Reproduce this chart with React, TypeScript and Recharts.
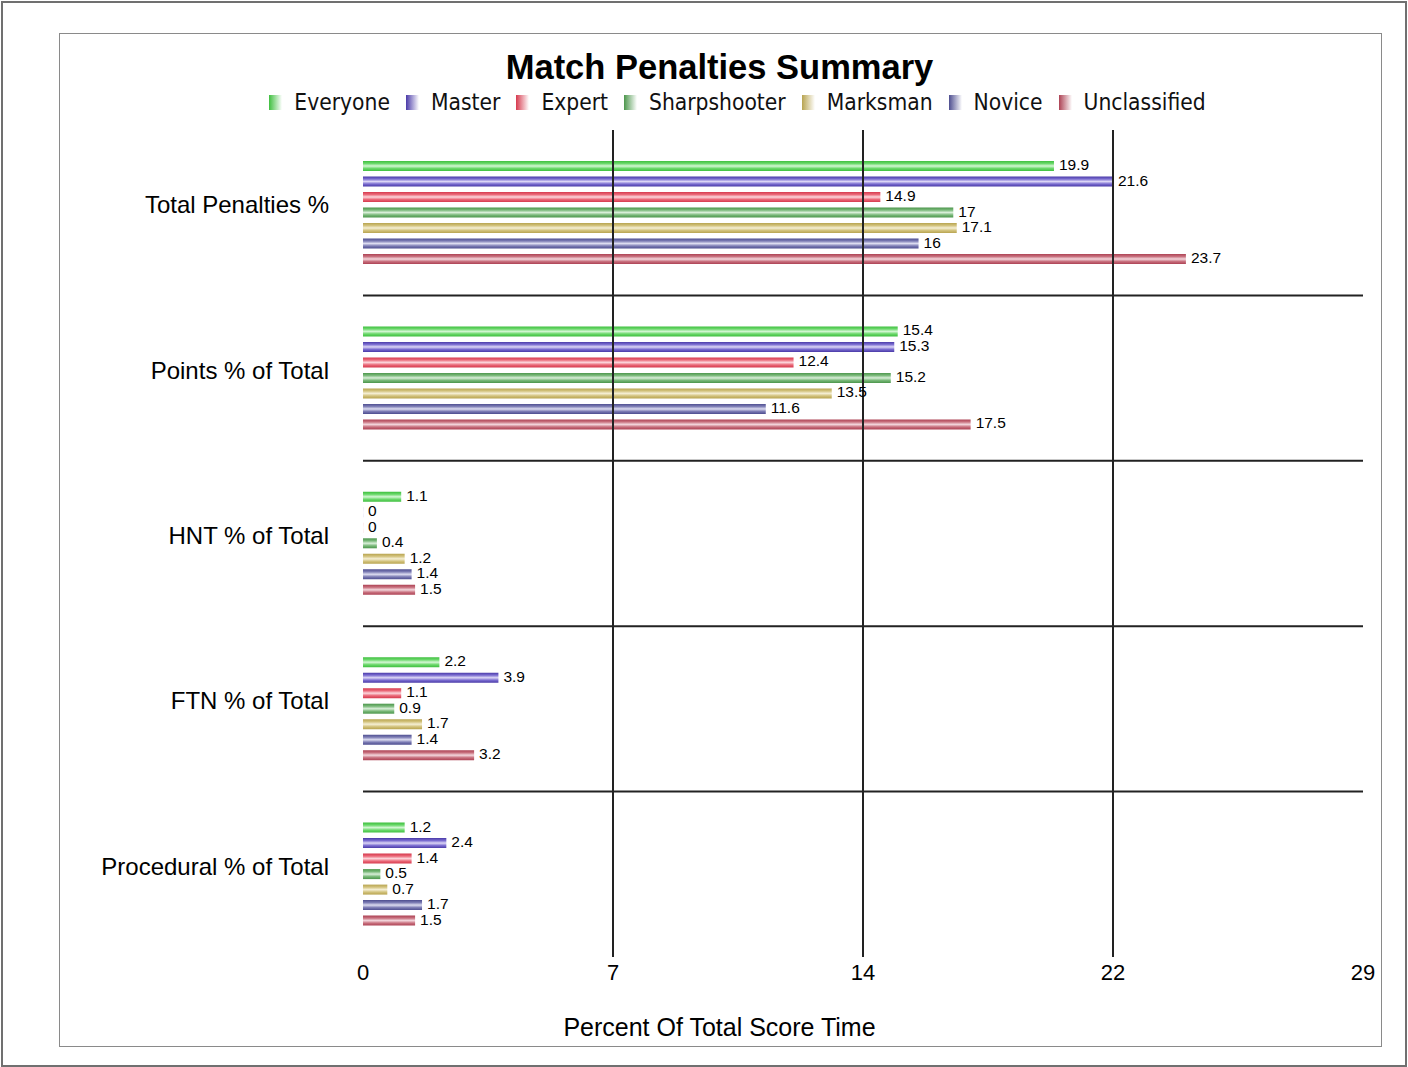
import React from "react";
import {
  BarChart,
  Bar,
  XAxis,
  YAxis,
  Legend,
  ReferenceLine,
  LabelList,
  Label,
  CartesianGrid,
} from "recharts";

// chart data
const categories = [
  "Total Penalties %",
  "Points % of Total",
  "HNT % of Total",
  "FTN % of Total",
  "Procedural % of Total",
];
const everyone = [19.9, 15.4, 1.1, 2.2, 1.2];
const master = [21.6, 15.3, 0, 3.9, 2.4];
const expert = [14.9, 12.4, 0, 1.1, 1.4];
const sharpshooter = [17, 15.2, 0.4, 0.9, 0.5];
const marksman = [17.1, 13.5, 1.2, 1.7, 0.7];
const novice = [16, 11.6, 1.4, 1.4, 1.7];
const unclassified = [23.7, 17.5, 1.5, 3.2, 1.5];

const xMax = 28.8;
const xTicks = [0, 7.2, 14.4, 21.6, 28.8];
const xTickLabels = ["0", "7", "14", "22", "29"];

const series = [
  { key: "everyone", name: "Everyone", values: everyone, dark: "#3fbf3f", mid: "#6ad86a", light: "#d4f7d4" },
  { key: "master", name: "Master", values: master, dark: "#4a3aa8", mid: "#7a6cd0", light: "#dcd6f6" },
  { key: "expert", name: "Expert", values: expert, dark: "#d63a4e", mid: "#ea6878", light: "#fcd6dc" },
  { key: "sharpshooter", name: "Sharpshooter", values: sharpshooter, dark: "#4c964c", mid: "#78b878", light: "#d8eed8" },
  { key: "marksman", name: "Marksman", values: marksman, dark: "#b8a450", mid: "#d2c27c", light: "#f5efd4" },
  { key: "novice", name: "Novice", values: novice, dark: "#4e4e90", mid: "#7c7cb4", light: "#dcdcf0" },
  { key: "unclassified", name: "Unclassified", values: unclassified, dark: "#ad4254", mid: "#c8707e", light: "#f3d6dc" },
];

const data = categories.map((category, i) => {
  const row: Record<string, string | number> = { category };
  series.forEach((s) => {
    row[s.key] = s.values[i];
  });
  return row;
});

const W = 1408;
const H = 1067;
const FRAME = { left: 59, top: 33, right: 1380, bottom: 1045 };
const frameCenter = (FRAME.left + FRAME.right) / 2;
const ARIAL = "'Liberation Sans', Arial, sans-serif";
const LEGEND_FONT = "'DejaVu Sans Condensed', 'DejaVu Sans', sans-serif";

function LegendContent() {
  return (
    <div
      style={{
        display: "flex",
        justifyContent: "center",
        alignItems: "center",
        height: 28,
        paddingLeft: 36,
        fontFamily: LEGEND_FONT,
        fontSize: 22.6,
        color: "#111",
      }}
    >
      {series.map((s, i) => (
        <div
          key={s.key}
          style={{ display: "flex", alignItems: "center", marginRight: i < series.length - 1 ? 16 : 0 }}
        >
          <span
            style={{
              display: "inline-block",
              width: 13,
              height: 15,
              marginRight: 12,
              background: `linear-gradient(to right, ${s.dark}, #ffffff)`,
            }}
          />
          <span>{s.name}</span>
        </div>
      ))}
    </div>
  );
}

// horizontal dividers sit on the boundaries between the (unpadded) category bands
const bandBoundaries = ({ offset }: any) => {
  if (!offset) return [];
  const step = offset.height / categories.length;
  return categories.slice(1).map((_c, i) => offset.top + (i + 1) * step);
};

export default function App() {
  return (
    <div style={{ position: "absolute", left: 0, top: 0, width: W, height: H, background: "#fff" }}>
      <div
        style={{
          position: "absolute",
          left: 1,
          top: 1,
          width: W - 6,
          height: H - 5,
          border: "2px solid #707070",
        }}
      />
      <div
        style={{
          position: "absolute",
          left: FRAME.left,
          top: FRAME.top,
          width: FRAME.right - FRAME.left,
          height: FRAME.bottom - FRAME.top,
          border: "1px solid #8a8a8a",
        }}
      />
      <div
        style={{
          position: "absolute",
          left: 0,
          width: frameCenter * 2,
          top: 48,
          textAlign: "center",
          fontFamily: ARIAL,
          fontWeight: "bold",
          fontSize: 34.5,
          color: "#000",
        }}
      >
        Match Penalties Summary
      </div>
      <div style={{ position: "absolute", left: 0, top: 0 }}>
        <BarChart
          width={W}
          height={H}
          data={data}
          layout="vertical"
          margin={{ top: 102, right: 45, bottom: 20, left: 0 }}
          barSize={10}
          barGap={5.5}
        >
          <defs>
            {series.map((s) => (
              <linearGradient key={s.key} id={`grad-${s.key}`} x1="0" y1="0" x2="0" y2="1">
                <stop offset="0%" stopColor={s.dark} />
                <stop offset="25%" stopColor={s.mid} />
                <stop offset="50%" stopColor={s.light} />
                <stop offset="75%" stopColor={s.mid} />
                <stop offset="100%" stopColor={s.dark} />
              </linearGradient>
            ))}
          </defs>
          <Legend
            verticalAlign="top"
            content={LegendContent}
            wrapperStyle={{ position: "absolute", top: 88, left: 0, width: frameCenter * 2 }}
          />
          <CartesianGrid
            vertical={false}
            horizontalCoordinatesGenerator={bandBoundaries}
            stroke="#222"
            strokeWidth={2}
          />
          <XAxis
            type="number"
            domain={[0, xMax]}
            ticks={xTicks}
            tickFormatter={(_v: number, i: number) => xTickLabels[i]}
            axisLine={false}
            tickLine={false}
            tickSize={0}
            tickMargin={7}
            height={90}
            interval={0}
            tick={{ fill: "#000", fontSize: 22, fontFamily: ARIAL }}
          >
            <Label
              content={({ viewBox }: any) => (
                <text
                  x={frameCenter}
                  y={viewBox.y + 79}
                  textAnchor="middle"
                  fontFamily={ARIAL}
                  fontSize={25}
                  fill="#000"
                >
                  Percent Of Total Score Time
                </text>
              )}
            />
          </XAxis>
          <YAxis
            type="category"
            dataKey="category"
            width={363}
            axisLine={false}
            tickLine={false}
            tickSize={0}
            tickMargin={34}
            tick={{ fill: "#000", fontSize: 24, fontFamily: ARIAL, dy: -8 }}
          />
          {xTicks.slice(1, -1).map((t) => (
            <ReferenceLine key={`v${t}`} x={t} stroke="#222" strokeWidth={2} />
          ))}
          {series.map((s) => (
            <Bar
              key={s.key}
              dataKey={s.key}
              name={s.name}
              fill={`url(#grad-${s.key})`}
              minPointSize={0.1}
              isAnimationActive={false}
            >
              <LabelList
                dataKey={s.key}
                position="right"
                offset={5}
                fill="#000"
                fontSize={15.5}
                fontFamily={ARIAL}
                dy={-1.5}
              />
            </Bar>
          ))}
        </BarChart>
      </div>
    </div>
  );
}
